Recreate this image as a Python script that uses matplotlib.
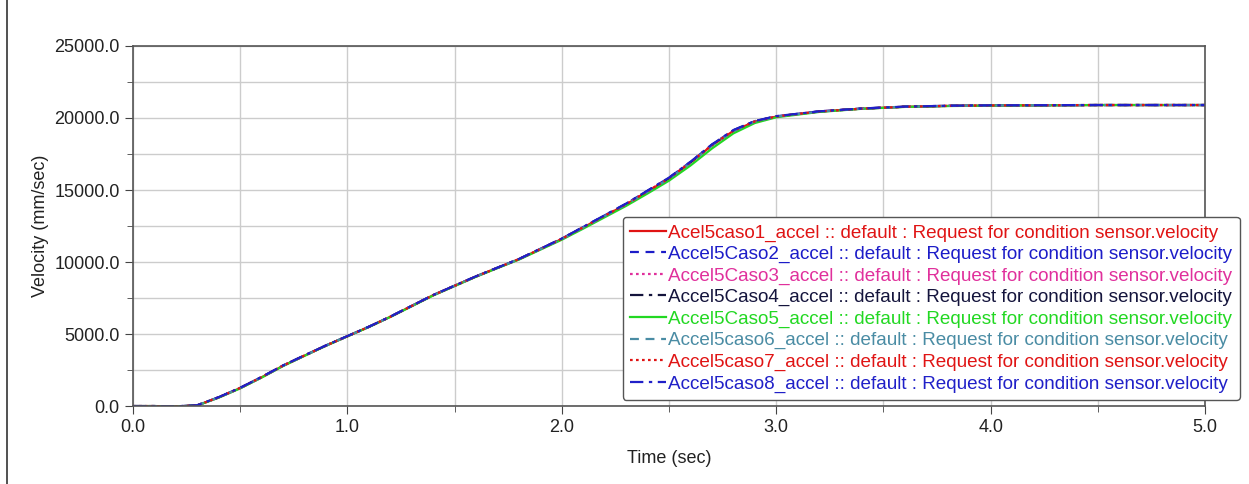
import matplotlib.pyplot as plt
from matplotlib.lines import Line2D
from matplotlib.ticker import MultipleLocator

plt.rcParams['font.family'] = ['Liberation Sans', 'DejaVu Sans']

# Time samples (sec)
time = [0.0, 0.1, 0.2, 0.3, 0.4, 0.5, 0.6, 0.7, 0.8, 0.9, 1.0, 1.1, 1.2, 1.3,
        1.4, 1.5, 1.6, 1.7, 1.8, 1.9, 2.0, 2.1, 2.2, 2.3, 2.4, 2.5, 2.6, 2.7,
        2.8, 2.9, 3.0, 3.2, 3.4, 3.6, 3.8, 4.0, 4.5, 5.0]

# Velocity (mm/sec), one list per case
caso1 = [0, 0, -30, 50, 600, 1250, 2000, 2800, 3500, 4200, 4850, 5500, 6200, 6950,
         7700, 8350, 9000, 9600, 10200, 10900, 11600, 12400, 13200, 14000, 14900,
         15800, 16900, 18100, 19100, 19750, 20100, 20450, 20650, 20780, 20840,
         20870, 20900, 20900]
caso2 = [0, 0, -20, 60, 620, 1270, 2020, 2820, 3520, 4210, 4860, 5510, 6210, 6960,
         7710, 8360, 9010, 9610, 10210, 10920, 11630, 12430, 13240, 14050, 14950,
         15850, 16950, 18150, 19150, 19780, 20120, 20460, 20660, 20790, 20850,
         20880, 20900, 20900]
caso3 = [0, 0, -30, 50, 610, 1260, 2010, 2810, 3510, 4200, 4850, 5500, 6200, 6950,
         7700, 8350, 9000, 9600, 10200, 10900, 11610, 12410, 13210, 14020, 14920,
         15820, 16920, 18120, 19120, 19760, 20100, 20450, 20650, 20780, 20840,
         20870, 20900, 20900]
caso4 = [0, 0, -25, 55, 610, 1260, 2010, 2810, 3510, 4200, 4850, 5500, 6200, 6950,
         7700, 8350, 9000, 9600, 10200, 10900, 11620, 12420, 13220, 14030, 14930,
         15830, 16930, 18130, 19130, 19770, 20110, 20450, 20650, 20780, 20840,
         20870, 20900, 20900]
caso5 = [0, 0, -30, 40, 590, 1230, 1980, 2780, 3490, 4190, 4840, 5490, 6190, 6930,
         7680, 8330, 8980, 9580, 10170, 10860, 11550, 12320, 13110, 13900, 14760,
         15650, 16700, 17880, 18930, 19650, 20050, 20420, 20640, 20770, 20830,
         20860, 20900, 20900]
caso6 = [0, 0, -30, 50, 600, 1250, 2000, 2800, 3500, 4200, 4850, 5500, 6200, 6950,
         7700, 8350, 9000, 9600, 10200, 10890, 11590, 12390, 13190, 13990, 14880,
         15780, 16880, 18080, 19080, 19740, 20090, 20440, 20650, 20780, 20840,
         20870, 20900, 20900]
caso7 = [0, 0, -30, 50, 610, 1260, 2010, 2810, 3510, 4200, 4850, 5500, 6200, 6950,
         7700, 8350, 9000, 9600, 10200, 10900, 11610, 12410, 13210, 14010, 14910,
         15810, 16910, 18110, 19110, 19760, 20100, 20450, 20650, 20780, 20840,
         20870, 20900, 20900]
caso8 = [0, 0, -20, 60, 620, 1270, 2020, 2820, 3520, 4210, 4860, 5510, 6210, 6960,
         7710, 8360, 9010, 9610, 10210, 10920, 11630, 12440, 13250, 14060, 14960,
         15860, 16960, 18160, 19160, 19790, 20130, 20460, 20660, 20790, 20850,
         20880, 20900, 20900]

series = [caso1, caso2, caso3, caso4, caso5, caso6, caso7, caso8]
labels = [
    'Acel5caso1_accel :: default : Request for condition sensor.velocity',
    'Accel5Caso2_accel :: default : Request for condition sensor.velocity',
    'Accel5Caso3_accel :: default : Request for condition sensor.velocity',
    'Accel5Caso4_accel :: default : Request for condition sensor.velocity',
    'Accel5Caso5_accel :: default : Request for condition sensor.velocity',
    'Accel5caso6_accel :: default : Request for condition sensor.velocity',
    'Accel5caso7_accel :: default : Request for condition sensor.velocity',
    'Accel5caso8_accel :: default : Request for condition sensor.velocity',
]
colors = ['#e01414', '#1c1cc8', '#e0309c', '#14143c', '#22d822', '#4a8ca4',
          '#e01414', '#2020c8']
styles = ['-', (0, (4, 3)), (0, (1.2, 1.5)), (0, (6, 2.5, 1.5, 2.5)), '-',
          (0, (4, 3)), (0, (1.2, 1.5)), (0, (6, 2.5, 1.5, 2.5))]

fig = plt.figure(figsize=(12.49, 4.84), dpi=100)
ax = fig.add_axes([0.1065, 0.161, 0.8583, 0.744])

for y, lab, c, ls in zip(series, labels, colors, styles):
    ax.plot(time, y, color=c, linestyle=ls, linewidth=1.6, label=lab)

ax.set_xlim(0, 5)
ax.set_ylim(0, 25000)
ax.xaxis.set_major_locator(MultipleLocator(1.0))
ax.xaxis.set_minor_locator(MultipleLocator(0.5))
ax.yaxis.set_major_locator(MultipleLocator(5000))
ax.yaxis.set_minor_locator(MultipleLocator(2500))
ax.xaxis.set_major_formatter(lambda v, p: f'{v:.1f}')
ax.yaxis.set_major_formatter(lambda v, p: f'{v:.1f}')
ax.grid(True, which='both', color='#cccccc', linewidth=1.0)
ax.set_axisbelow(True)
ax.tick_params(which='both', direction='out', colors='#444444', labelcolor='#222222',
               labelsize=13)
ax.tick_params(which='major', length=6)
ax.tick_params(which='minor', length=4)
for s in ax.spines.values():
    s.set_color('#555555')
    s.set_linewidth(1.2)

ax.set_xlabel('Time (sec)', fontsize=13, color='#222222', labelpad=10)
ax.set_ylabel('Velocity (mm/sec)', fontsize=13, color='#222222', labelpad=4)

leg = ax.legend(loc='upper right', bbox_to_anchor=(1.0, 0.572),
                bbox_transform=fig.transFigure, fontsize=13.6,
                labelcolor='linecolor', handlelength=1.9, handletextpad=0.1,
                labelspacing=0.22, borderpad=0.4, fancybox=True,
                framealpha=1, edgecolor='#555555', shadow=False)
leg.get_frame().set_linewidth(1.0)

# border line at the far left of the picture
fig.add_artist(Line2D([0.006, 0.006], [0.0, 1.0], color='#333333', linewidth=1.2,
                      transform=fig.transFigure))

fig.savefig('out.png', dpi=100)
